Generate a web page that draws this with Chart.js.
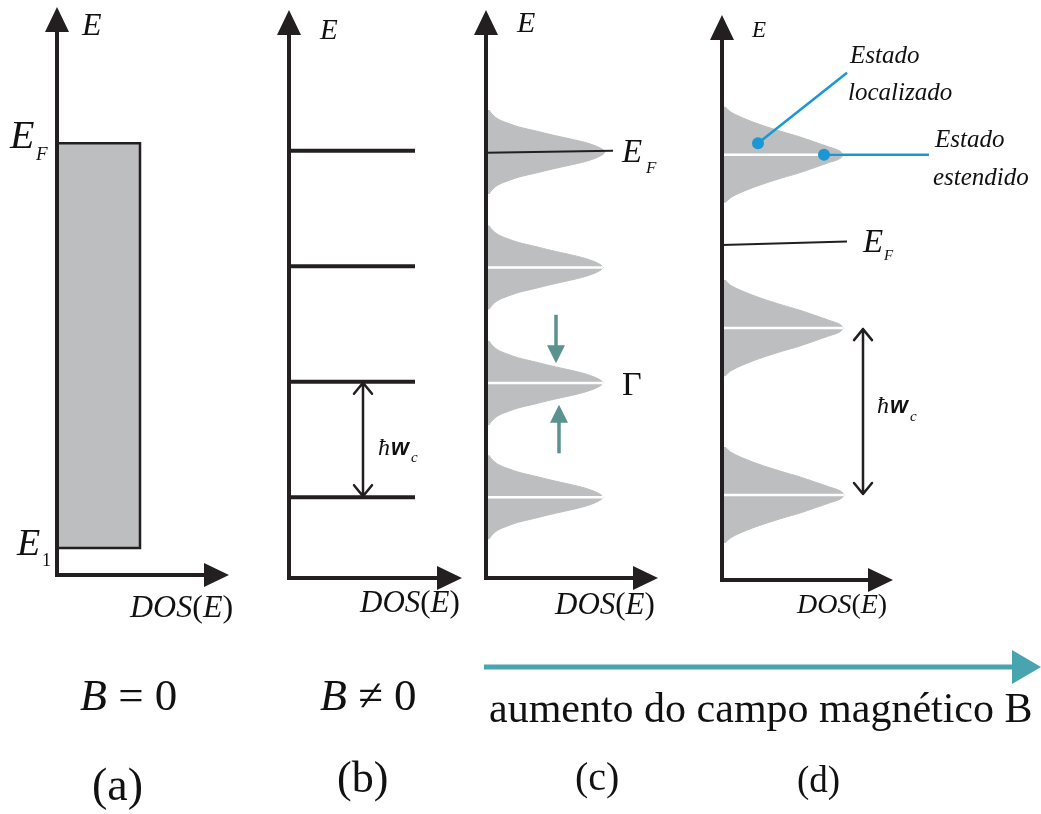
<!DOCTYPE html>
<html lang="pt">
<head>
<meta charset="utf-8">
<title>DOS(E) e níveis de Landau</title>
<script src="https://cdn.jsdelivr.net/npm/chart.js@4.4.1/dist/chart.umd.min.js"></script>
<style>
  html, body { margin: 0; background: #fff; }
  #wrap { position: relative; width: 1041px; height: 814px; overflow: hidden; }
  #wrap canvas { position: absolute; left: 0; top: 0; }
</style>
</head>
<body>
<div id="wrap">
  <canvas id="pa" width="1041" height="814"></canvas>
  <canvas id="pb" width="1041" height="814"></canvas>
  <canvas id="pc" width="1041" height="814"></canvas>
  <canvas id="pd" width="1041" height="814"></canvas>
</div>
<script>
// ---- dados (E em unidades de ħw_c do painel b, DOS em unidades arbitrárias) ----
const panelNames = ['(a)', '(b)', '(c)', '(d)'];
const fieldNames = ['B = 0', 'B ≠ 0'];
const trendLabel = 'aumento do campo magnético B';

const axisMaxE = [4.92, 4.92, 4.92, 4.89];
const axisMaxDOS = [1.72, 1.73, 1.72, 1.71];

// (a) B = 0: DOS constante entre E1 e EF
const stepE = [3.74, 3.74, 0.234, 0.234];
const stepDOS = [0, 0.83, 0.83, 0];

// (b) B ≠ 0: níveis de Landau
const landauB = [0.70, 1.70, 2.70, 3.70];
const deltaDOS = 1.26;
const hbarB = [0.74, 0.70, 1.70];          // DOS, E inicial, E final

// (c) níveis alargados
const landauC = [0.70, 1.69, 2.69, 3.69];
const peakC = [1.17, 1.17, 1.17, 1.19];
const offsetC = [0, 0.035, 0.078, 0.113, 0.147, 0.182, 0.216, 0.251, 0.286, 0.329, 0.364];
const shapeC = [1.00, 0.96, 0.85, 0.71, 0.56, 0.42, 0.28, 0.18, 0.10, 0.05, 0.025];
const fermiC = [3.683, 3.70];
const fermiCDOS = 1.27;
const gammaDown = [0.70, 2.28, 1.86];     // DOS, E cauda, E ponta
const gammaUp = [0.73, 1.08, 1.50];

// (d) campo maior
const landauD = [0.736, 2.18, 3.68];
const peakD = [1.22, 1.21, 1.21];
const offsetD = [0, 0.035, 0.069, 0.113, 0.156, 0.199, 0.242, 0.286, 0.329, 0.372, 0.416];
const shapeD = [1.00, 0.97, 0.88, 0.76, 0.64, 0.50, 0.37, 0.25, 0.15, 0.07, 0.025];
const fermiD = [2.90, 2.93];
const fermiDDOS = 1.25;
const hbarD = [1.41, 0.736, 2.18];
const localized = [[0.36, 3.78], [1.25, 4.39]];
const extended = [[1.02, 3.68], [2.07, 3.68]];

// ---- estilo ----
const DARK = '#231f20', GRAY = '#bcbec0', BLUE = '#1a97d4', TEAL = '#5b918e', CYAN = '#48a4ae';
const SERIF = '"Liberation Serif", "Times New Roman", serif';
const SANS = '"Liberation Sans", Arial, sans-serif';

const frames = [
  { left: 57, top: 7, right: 229, bottom: 575 },
  { left: 289, top: 10, right: 462, bottom: 578 },
  { left: 486, top: 10, right: 658, bottom: 578 },
  { left: 722, top: 15, right: 893, bottom: 580 }
];

const dos = (x, y, size) => ({ x, y, runs: [['DOS', 'italic', size], ['(', 'normal', size], ['E', 'italic', size], [')', 'normal', size]] });
const t = (x, y, str, style, size, fam) => ({ x, y, runs: [[str, style, size, fam]] });

const texts = [
  [t(82, 35, 'E', 'italic', 32), t(10, 148, 'E', 'italic', 40), t(36, 160, 'F', 'italic', 19),
   t(17, 555, 'E', 'italic', 38), t(42, 566, '1', 'normal', 18), dos(130, 617, 32),
   { x: 80, y: 710, runs: [['B', 'italic', 44], [fieldNames[0].slice(1), 'normal', 45]] },
   t(92, 800, panelNames[0], 'normal', 46)],
  [t(320, 39, 'E', 'italic', 29), dos(360, 612, 31),
   t(378, 455, 'ħ', 'italic', 24), t(391, 455, 'w', 'bold italic', 23, SANS), t(411, 462, 'c', 'italic', 15),
   { x: 320, y: 710, runs: [['B', 'italic', 44], [fieldNames[1].slice(1), 'normal', 45]] },
   t(337, 792, panelNames[1], 'normal', 44)],
  [t(517, 32, 'E', 'italic', 30), t(622, 162, 'E', 'italic', 33), t(646, 173, 'F', 'italic', 17),
   t(622, 395, 'Γ', 'normal', 34), dos(555, 614, 31),
   t(489, 722, trendLabel, 'normal', 42), t(575, 790, panelNames[2], 'normal', 40)],
  [t(752, 37, 'E', 'italic', 23), t(863, 252, 'E', 'italic', 33), t(884, 260, 'F', 'italic', 15),
   t(877, 413, 'ħ', 'italic', 24), t(890, 413, 'w', 'bold italic', 23, SANS), t(910, 421, 'c', 'italic', 15),
   dos(797, 613, 28),
   t(850, 63, 'Estado', 'italic', 25), t(848, 100, 'localizado', 'italic', 25),
   t(935, 147, 'Estado', 'italic', 25), t(933, 185, 'estendido', 'italic', 25),
   t(797, 792, panelNames[3], 'normal', 37)]
];

// ---- construção dos datasets ----
function peakPoints(center, h, offs, shape) {
  const pts = [];
  for (let i = offs.length - 1; i > 0; i--) pts.push({ x: h * shape[i], y: center - offs[i] });
  for (let i = 0; i < offs.length; i++) pts.push({ x: h * shape[i], y: center + offs[i] });
  return pts;
}
const seg = (x0, y0, x1, y1, color, width, extra) => Object.assign({
  data: [{ x: x0, y: y0 }, { x: x1, y: y1 }], borderColor: color, borderWidth: width,
  pointRadius: 0, fill: false, tension: 0, order: 1
}, extra);
const peak = (c, h, offs, shape) => ({
  data: peakPoints(c, h, offs, shape), borderColor: GRAY, borderWidth: 1, backgroundColor: GRAY,
  fill: 'origin', pointRadius: 0, tension: 0.3, order: 2
});
const pointer = (pair) => seg(pair[0][0], pair[0][1], pair[1][0], pair[1][1], BLUE, 2.5, {
  order: 0, clip: false, pointRadius: [6, 0], pointBackgroundColor: BLUE, pointBorderWidth: 0
});

const datasetsA = [{
  data: stepE.map((e, i) => ({ x: stepDOS[i], y: e })), borderColor: DARK, borderWidth: 2.5,
  backgroundColor: GRAY, fill: 'origin', pointRadius: 0, tension: 0
}];
const datasetsB = landauB.map(e => seg(0, e, deltaDOS, e, DARK, 4));
const datasetsC = [
  ...landauC.map((e, i) => peak(e, peakC[i], offsetC, shapeC)),
  ...landauC.slice(0, 3).map((e, i) => seg(0, e, peakC[i], e, '#fff', 2.5)),
  seg(0, fermiC[0], fermiCDOS, fermiC[1], DARK, 2)
];
const datasetsD = [
  ...landauD.map((e, i) => peak(e, peakD[i], offsetD, shapeD)),
  ...landauD.map((e, i) => seg(0, e, peakD[i], e, '#fff', 2.5)),
  seg(0, fermiD[0], fermiDDOS, fermiD[1], DARK, 2),
  pointer(localized), pointer(extended)
];

// ---- desenho auxiliar ----
function drawRuns(ctx, item) {
  let x = item.x;
  item.runs.forEach(([str, style, size, fam]) => {
    ctx.font = `${style} ${size}px ${fam || SERIF}`;
    ctx.fillText(str, x, item.y);
    x += ctx.measureText(str).width;
  });
}
function doubleArrow(ctx, xs, ys, spec) {
  const x = xs.getPixelForValue(spec[0]);
  const y0 = ys.getPixelForValue(spec[1]), y1 = ys.getPixelForValue(spec[2]);
  ctx.strokeStyle = DARK; ctx.lineWidth = 2.5; ctx.lineCap = 'round'; ctx.lineJoin = 'round';
  ctx.beginPath();
  ctx.moveTo(x, y0 - 1); ctx.lineTo(x, y1 + 1);
  ctx.moveTo(x - 9, y1 + 12); ctx.lineTo(x, y1 + 1); ctx.lineTo(x + 9, y1 + 12);
  ctx.moveTo(x - 9, y0 - 12); ctx.lineTo(x, y0 - 1); ctx.lineTo(x + 9, y0 - 12);
  ctx.stroke();
}
function solidArrow(ctx, xs, ys, spec) {
  const x = xs.getPixelForValue(spec[0]);
  const yt = ys.getPixelForValue(spec[1]), yp = ys.getPixelForValue(spec[2]);
  const dir = Math.sign(yp - yt);
  ctx.strokeStyle = TEAL; ctx.fillStyle = TEAL; ctx.lineWidth = 3.5; ctx.lineCap = 'butt';
  ctx.beginPath(); ctx.moveTo(x, yt); ctx.lineTo(x, yp - dir * 16); ctx.stroke();
  ctx.beginPath(); ctx.moveTo(x - 9, yp - dir * 18); ctx.lineTo(x + 9, yp - dir * 18); ctx.lineTo(x, yp); ctx.closePath(); ctx.fill();
}

function decor(idx, extra) {
  return {
    id: 'decor' + idx,
    afterDatasetsDraw(chart) {
      const { ctx, chartArea: a, scales } = chart;
      ctx.save();
      ctx.strokeStyle = DARK; ctx.fillStyle = DARK; ctx.lineWidth = 4;
      ctx.beginPath();
      ctx.moveTo(a.left, a.bottom + 2); ctx.lineTo(a.left, a.top + 24);
      ctx.moveTo(a.left - 2, a.bottom); ctx.lineTo(a.right - 24, a.bottom);
      ctx.stroke();
      ctx.beginPath();
      ctx.moveTo(a.left - 12, a.top + 25); ctx.lineTo(a.left + 12, a.top + 25); ctx.lineTo(a.left, a.top); ctx.closePath();
      ctx.moveTo(a.right - 25, a.bottom - 12); ctx.lineTo(a.right - 25, a.bottom + 12); ctx.lineTo(a.right, a.bottom); ctx.closePath();
      ctx.fill();
      if (extra) extra(ctx, scales.x, scales.y);
      ctx.restore();
    },
    afterDraw(chart) {
      const ctx = chart.ctx;
      ctx.save();
      ctx.fillStyle = '#111';
      ctx.textBaseline = 'alphabetic';
      texts[idx].forEach(item => drawRuns(ctx, item));
      ctx.restore();
    }
  };
}

function makePanel(id, idx, datasets, extra) {
  const f = frames[idx];
  return new Chart(document.getElementById(id), {
    type: 'line',
    data: { datasets },
    options: {
      indexAxis: 'y',
      responsive: false,
      animation: false,
      devicePixelRatio: 1,
      events: [],
      layout: { padding: { left: f.left, top: f.top, right: 1041 - f.right, bottom: 814 - f.bottom } },
      scales: {
        x: { type: 'linear', min: 0, max: axisMaxDOS[idx], display: false },
        y: { type: 'linear', min: 0, max: axisMaxE[idx], display: false }
      },
      plugins: { legend: { display: false }, tooltip: { enabled: false } }
    },
    plugins: [decor(idx, extra)]
  });
}

makePanel('pa', 0, datasetsA);
makePanel('pb', 1, datasetsB, (ctx, xs, ys) => doubleArrow(ctx, xs, ys, hbarB));
makePanel('pc', 2, datasetsC, (ctx, xs, ys) => {
  solidArrow(ctx, xs, ys, gammaDown);
  solidArrow(ctx, xs, ys, gammaUp);
  // seta do aumento do campo (abaixo dos painéis c e d)
  ctx.strokeStyle = CYAN; ctx.fillStyle = CYAN; ctx.lineWidth = 5;
  ctx.beginPath(); ctx.moveTo(484, 667); ctx.lineTo(1014, 667); ctx.stroke();
  ctx.beginPath(); ctx.moveTo(1012, 650); ctx.lineTo(1012, 684); ctx.lineTo(1041, 667); ctx.closePath(); ctx.fill();
});
makePanel('pd', 3, datasetsD, (ctx, xs, ys) => doubleArrow(ctx, xs, ys, hbarD));
</script>
</body>
</html>
